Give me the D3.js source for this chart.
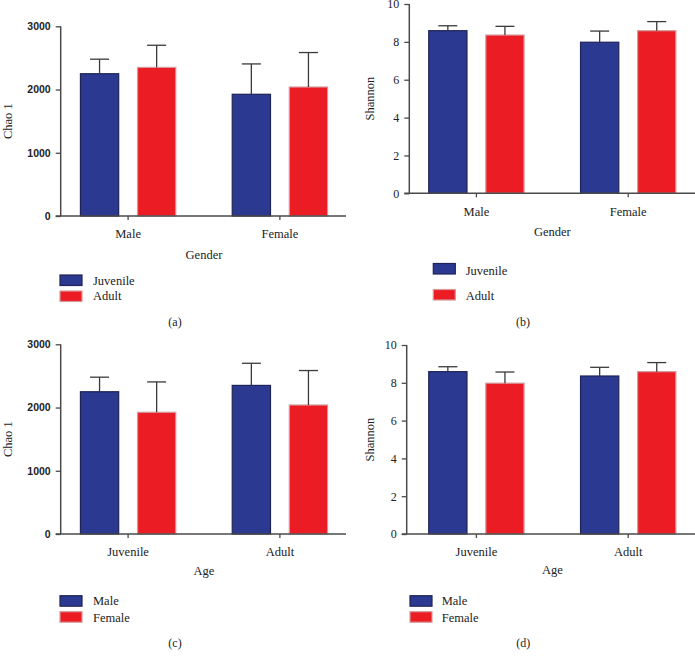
<!DOCTYPE html>
<html><head><meta charset="utf-8">
<script src="https://cdn.jsdelivr.net/npm/d3@7"></script>
<style>
body{margin:0;background:#fff;}
svg{display:block;}
</style></head>
<body>
<svg id="chart" width="695" height="661"></svg>
<script>
// ---------- data ----------
const genderCategories = ["Male", "Female"];
const ageCategories = ["Juvenile", "Adult"];

// Chao 1 (mean, SD) indexed by gender [Male, Female]
const chaoJuvenile = [2250, 1925];
const chaoJuvenileSD = [230, 480];
const chaoAdult = [2350, 2040];
const chaoAdultSD = [350, 545];

// Shannon (mean, SD) indexed by gender [Male, Female]
const shannonJuvenile = [8.59, 7.98];
const shannonJuvenileSD = [0.26, 0.59];
const shannonAdult = [8.36, 8.59];
const shannonAdultSD = [0.46, 0.48];

const chaoTicks = [0, 1000, 2000, 3000];
const shannonTicks = [0, 2, 4, 6, 8, 10];

const BLUE = "#2b3990", RED = "#ec1c24";
const BLUE_STROKE = "#1e2456", RED_STROKE = "#d49a9c";

// ---------- panels ----------
const panels = [
  { // (a)
    categories: genderCategories, xTitle: "Gender", yTitle: "Chao 1", letter: "(a)",
    series: [
      {name: "Juvenile", values: chaoJuvenile, sd: chaoJuvenileSD, color: BLUE, stroke: BLUE_STROKE},
      {name: "Adult", values: chaoAdult, sd: chaoAdultSD, color: RED, stroke: RED_STROKE}
    ],
    yMax: 3000, ticks: chaoTicks, tickFont: "sans",
    axisX: 60.7, bandStart: 61, xEnd: 346, yTop: 26.3, yBottom: 216,
    tickLabelY: 238, xTitleY: 259, yTitleX: 12, legendX: 60, legendY: [275, 291], legendTextX: 93, legendBase: [284.5, 300],
    letterX: 175, letterY: 326
  },
  { // (b)
    categories: genderCategories, xTitle: "Gender", yTitle: "Shannon", letter: "(b)",
    series: [
      {name: "Juvenile", values: shannonJuvenile, sd: shannonJuvenileSD, color: BLUE, stroke: BLUE_STROKE},
      {name: "Adult", values: shannonAdult, sd: shannonAdultSD, color: RED, stroke: RED_STROKE}
    ],
    yMax: 10, ticks: shannonTicks, tickFont: "serif",
    axisX: 409.3, bandStart: 409.3, xEnd: 695, yTop: 4, yBottom: 193.3,
    tickLabelY: 216, xTitleY: 236, yTitleX: 374, legendX: 433.3, legendY: [263.5, 289.5], legendTextX: 465.7, legendBase: [275, 300],
    letterX: 523, letterY: 326
  },
  { // (c)
    categories: ageCategories, xTitle: "Age", yTitle: "Chao 1", letter: "(c)",
    series: [
      {name: "Male", values: [chaoJuvenile[0], chaoAdult[0]], sd: [chaoJuvenileSD[0], chaoAdultSD[0]], color: BLUE, stroke: BLUE_STROKE},
      {name: "Female", values: [chaoJuvenile[1], chaoAdult[1]], sd: [chaoJuvenileSD[1], chaoAdultSD[1]], color: RED, stroke: RED_STROKE}
    ],
    yMax: 3000, ticks: chaoTicks, tickFont: "sans",
    axisX: 60.7, bandStart: 61, xEnd: 346, yTop: 344.3, yBottom: 534,
    tickLabelY: 556, xTitleY: 575, yTitleX: 12, legendX: 60, legendY: [595.7, 611.7], legendTextX: 93, legendBase: [605, 621.5],
    letterX: 175, letterY: 647
  },
  { // (d)
    categories: ageCategories, xTitle: "Age", yTitle: "Shannon", letter: "(d)",
    series: [
      {name: "Male", values: [shannonJuvenile[0], shannonAdult[0]], sd: [shannonJuvenileSD[0], shannonAdultSD[0]], color: BLUE, stroke: BLUE_STROKE},
      {name: "Female", values: [shannonJuvenile[1], shannonAdult[1]], sd: [shannonJuvenileSD[1], shannonAdultSD[1]], color: RED, stroke: RED_STROKE}
    ],
    yMax: 10, ticks: shannonTicks, tickFont: "serif",
    axisX: 406.7, bandStart: 409.3, xEnd: 695, yTop: 345, yBottom: 534,
    tickLabelY: 556, xTitleY: 574, yTitleX: 374, legendX: 410, legendY: [595.7, 611.7], legendTextX: 441.7, legendBase: [605, 621.5],
    letterX: 523.3, letterY: 647
  }
];

const SERIF = "'Liberation Serif', 'DejaVu Serif', serif";
const SANS = "'Liberation Sans', Arial, sans-serif";
const AXIS_COLOR = "#4a4a4a";

const svg = d3.select("#chart");

panels.forEach(p => {
  const g = svg.append("g");
  const y = d3.scaleLinear().domain([0, p.yMax]).range([p.yBottom, p.yTop]);
  const x0 = d3.scaleBand().domain(p.categories)
    .range([p.bandStart, p.bandStart + 286]).paddingInner(0.372).paddingOuter(0.128);
  const x1 = d3.scaleBand().domain(p.series.map(s => s.name))
    .range([0, x0.bandwidth()]).paddingInner(0.33).paddingOuter(0);

  // bars
  p.series.forEach(s => {
    p.categories.forEach((c, i) => {
      const bx = x0(c) + x1(s.name);
      g.append("rect")
        .attr("x", bx).attr("y", y(s.values[i]))
        .attr("width", x1.bandwidth()).attr("height", y(0) - y(s.values[i]))
        .attr("fill", s.color).attr("stroke", s.stroke).attr("stroke-width", 1.2);
      const cx = bx + x1.bandwidth() / 2;
      const top = y(s.values[i] + s.sd[i]);
      g.append("line").attr("x1", cx).attr("x2", cx)
        .attr("y1", y(s.values[i])).attr("y2", top)
        .attr("stroke", "#3a3a3a").attr("stroke-width", 1.3);
      g.append("line").attr("x1", cx - 9.5).attr("x2", cx + 9.5)
        .attr("y1", top).attr("y2", top)
        .attr("stroke", "#3a3a3a").attr("stroke-width", 1.3);
    });
  });

  // y axis
  const yAxis = d3.axisLeft(y).tickValues(p.ticks).tickSize(5).tickPadding(5).tickFormat(d3.format("d"));
  const ya = g.append("g").attr("transform", `translate(${p.axisX},0)`).call(yAxis);
  ya.select(".domain").attr("stroke", AXIS_COLOR).attr("stroke-width", 1.5)
    .attr("d", `M0,${p.yTop}V${p.yBottom}`);
  ya.selectAll(".tick line").attr("stroke", AXIS_COLOR).attr("stroke-width", 1.3);
  ya.selectAll(".tick text")
    .attr("font-family", p.tickFont === "sans" ? SANS : SERIF)
    .attr("font-size", p.tickFont === "sans" ? 10.5 : 12)
    .attr("font-weight", p.tickFont === "sans" ? "bold" : "normal")
    .attr("fill", "#222");

  // x axis
  const xAxis = d3.axisBottom(x0).tickSize(4).tickSizeOuter(0);
  const xa = g.append("g").attr("transform", `translate(0,${p.yBottom})`).call(xAxis);
  xa.select(".domain").attr("stroke", AXIS_COLOR).attr("stroke-width", 1.5)
    .attr("d", `M${p.axisX - 5},0H${p.xEnd}`);
  xa.selectAll(".tick line").attr("stroke", AXIS_COLOR).attr("stroke-width", 1.3);
  xa.selectAll(".tick text").remove();
  p.categories.forEach(c => {
    g.append("text").attr("x", x0(c) + x0.bandwidth() / 2).attr("y", p.tickLabelY)
      .attr("text-anchor", "middle").attr("font-family", SERIF).attr("font-size", 12.5)
      .attr("fill", "#222").text(c);
  });

  // axis titles
  g.append("text").attr("x", x0.range()[0] + 143).attr("y", p.xTitleY)
    .attr("text-anchor", "middle").attr("font-family", SERIF).attr("font-size", 12.5)
    .attr("fill", "#222").text(p.xTitle);
  g.append("text")
    .attr("transform", `translate(${p.yTitleX},${(p.yTop + p.yBottom) / 2}) rotate(-90)`)
    .attr("text-anchor", "middle").attr("font-family", SERIF).attr("font-size", 12.5)
    .attr("fill", "#222").text(p.yTitle);

  // legend
  p.series.forEach((s, i) => {
    g.append("rect").attr("x", p.legendX).attr("y", p.legendY[i])
      .attr("width", 22).attr("height", 10.5)
      .attr("fill", s.color).attr("stroke", s.stroke).attr("stroke-width", 1.2);
    g.append("text").attr("x", p.legendTextX).attr("y", p.legendBase[i])
      .attr("font-family", SERIF).attr("font-size", 12.5).attr("fill", "#222").text(s.name);
  });

  // panel letter
  g.append("text").attr("x", p.letterX).attr("y", p.letterY)
    .attr("text-anchor", "middle").attr("font-family", SERIF).attr("font-size", 12)
    .attr("fill", "#222").text(p.letter);
});
</script>
</body></html>
